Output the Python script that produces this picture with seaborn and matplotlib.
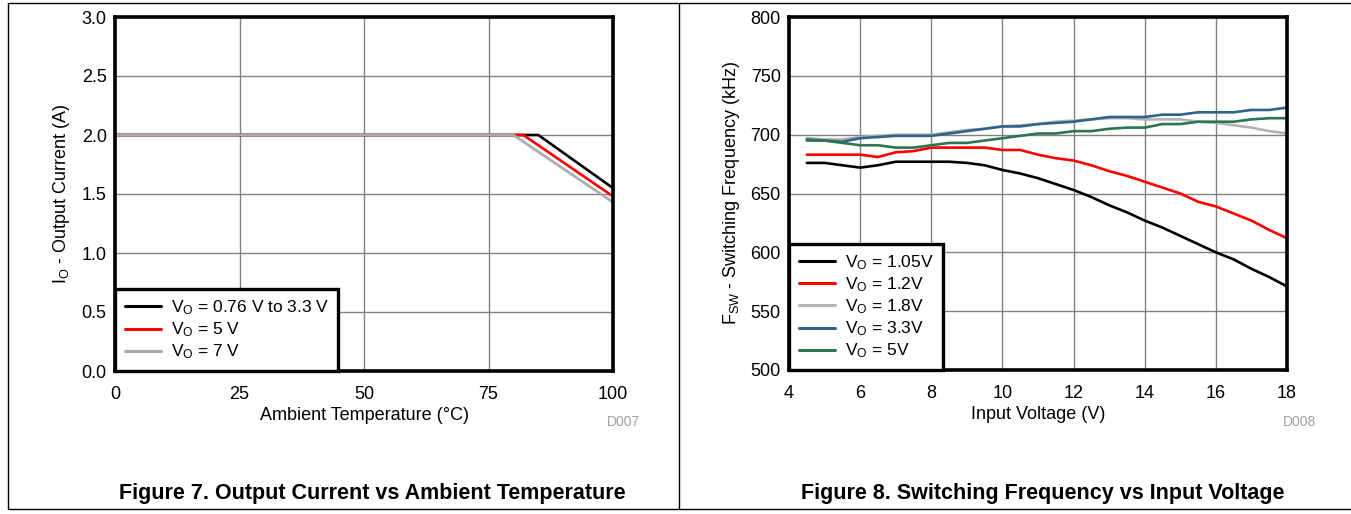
import numpy as np
import pandas as pd
import matplotlib
matplotlib.use('Agg')
import matplotlib.pyplot as plt
from matplotlib.lines import Line2D
import seaborn as sns

# Figure 7 - output current derating
temp_076_33 = [0, 85, 100]
iout_076_33 = [2.0, 2.0, 1.55]
temp_5 = [0, 82, 100]
iout_5 = [2.0, 2.0, 1.48]
temp_7 = [0, 80, 100]
iout_7 = [2.0, 2.0, 1.43]

# Figure 8 - switching frequency vs input voltage
vin = [4.5, 5, 5.5, 6, 6.5, 7, 7.5, 8, 8.5, 9, 9.5, 10, 10.5, 11, 11.5, 12,
       12.5, 13, 13.5, 14, 14.5, 15, 15.5, 16, 16.5, 17, 17.5, 18]
fsw_105 = [676, 676, 674, 672, 674, 677, 677, 677, 677, 676, 674, 670, 667, 663,
           658, 653, 647, 640, 634, 627, 621, 614, 607, 600, 594, 586, 579, 571]
fsw_12 = [683, 683, 683, 683, 681, 685, 686, 689, 689, 689, 689, 687, 687, 683,
          680, 678, 674, 669, 665, 660, 655, 650, 643, 639, 633, 627, 619, 612]
fsw_18 = [697, 696, 696, 698, 699, 700, 700, 700, 702, 704, 705, 707, 708, 709,
          711, 712, 713, 714, 714, 713, 713, 713, 711, 710, 708, 706, 703, 701]
fsw_33 = [695, 695, 694, 697, 698, 699, 699, 699, 701, 703, 705, 707, 707, 709,
          710, 711, 713, 715, 715, 715, 717, 717, 719, 719, 719, 721, 721, 723]
fsw_5 = [696, 695, 693, 691, 691, 689, 689, 691, 693, 693, 695, 697, 699, 701,
         701, 703, 703, 705, 706, 706, 709, 709, 711, 711, 711, 713, 714, 714]

lab7 = [r'V$_\mathrm{O}$ = 0.76 V to 3.3 V', r'V$_\mathrm{O}$ = 5 V', r'V$_\mathrm{O}$ = 7 V']
lab8 = [r'V$_\mathrm{O}$ = 1.05V', r'V$_\mathrm{O}$ = 1.2V', r'V$_\mathrm{O}$ = 1.8V',
        r'V$_\mathrm{O}$ = 3.3V', r'V$_\mathrm{O}$ = 5V']

df7 = pd.concat([
    pd.DataFrame({'T': temp_076_33, 'I': iout_076_33, 'Vo': lab7[0]}),
    pd.DataFrame({'T': temp_5, 'I': iout_5, 'Vo': lab7[1]}),
    pd.DataFrame({'T': temp_7, 'I': iout_7, 'Vo': lab7[2]}),
])
df8 = pd.concat([pd.DataFrame({'Vin': vin, 'F': f, 'Vo': l})
                 for f, l in zip([fsw_105, fsw_12, fsw_18, fsw_33, fsw_5], lab8)])

sns.set_style('white')
plt.rcParams['font.family'] = ['Liberation Sans', 'DejaVu Sans']
plt.rcParams['mathtext.fontset'] = 'custom'
plt.rcParams['mathtext.rm'] = 'Liberation Sans'
plt.rcParams['mathtext.it'] = 'Liberation Sans:italic'
for k in ['text.color', 'axes.labelcolor', 'xtick.color', 'ytick.color']:
    plt.rcParams[k] = 'black'

fs = 13

fig = plt.figure(figsize=(13.51, 5.14), dpi=100)
W, H = 1351, 514
ax1 = fig.add_axes([115 / W, 1 - 371 / H, 498 / W, 354 / H])
ax2 = fig.add_axes([789 / W, 1 - 370 / H, 498 / W, 353 / H])

sns.lineplot(data=df7, x='T', y='I', hue='Vo', hue_order=lab7,
             palette=['black', '#ff0000', '#ababab'], linewidth=1.9, ax=ax1)
sns.lineplot(data=df8, x='Vin', y='F', hue='Vo', hue_order=lab8,
             palette=['black', '#ff0000', '#b4b4b4', '#2f6489', '#2c7550'],
             linewidth=1.9, ax=ax2)

ax1.set_xlim(0, 100)
ax1.set_ylim(0, 3)
ax1.set_xticks([0, 25, 50, 75, 100])
ax1.set_yticks(np.arange(0, 3.01, 0.5))
ax1.set_yticklabels(['%.1f' % v for v in np.arange(0, 3.01, 0.5)])
ax1.set_xlabel('Ambient Temperature (°C)', fontsize=fs, labelpad=3.5)
ax1.set_ylabel(r'I$_\mathrm{O}$ - Output Current (A)', fontsize=fs, labelpad=7)

ax2.set_xlim(4, 18)
ax2.set_ylim(500, 800)
ax2.set_xticks(range(4, 19, 2))
ax2.set_yticks(range(500, 801, 50))
ax2.set_xlabel('Input Voltage (V)', fontsize=fs, labelpad=3.5)
ax2.set_ylabel(r'F$_\mathrm{SW}$ - Switching Frequency (kHz)', fontsize=fs, labelpad=6)

for ax in (ax1, ax2):
    ax.grid(True, color='#808080', linewidth=1)
    ax.set_axisbelow(True)
    ax.tick_params(length=0, labelsize=fs)
    ax.tick_params(axis='x', pad=10.5)
    ax.tick_params(axis='y', pad=6)
    for s in ax.spines.values():
        s.set_visible(True)
        s.set_color('black')
        s.set_linewidth(2.6)
    leg = ax.legend(loc='lower left', borderaxespad=0, fancybox=False, framealpha=1,
                    edgecolor='black', fontsize=12.5, handlelength=2.1, labelspacing=0.2,
                    borderpad=0.55, handletextpad=0.55)
    leg.get_frame().set_linewidth(2.4)
    for h in leg.get_lines():
        h.set_linewidth(2.2)

fig.text(624 / W, 1 - 422 / H, 'D007', color='#a0a0a0', fontsize=10, ha='center', va='center')
fig.text(1300 / W, 1 - 422 / H, 'D008', color='#a0a0a0', fontsize=10, ha='center', va='center')
fig.text(372 / W, 1 - 493 / H, 'Figure 7. Output Current vs Ambient Temperature',
         fontsize=15.5, fontweight='bold', ha='center', va='center')
fig.text(1043 / W, 1 - 493 / H, 'Figure 8. Switching Frequency vs Input Voltage',
         fontsize=15.5, fontweight='bold', ha='center', va='center')

# page frame
fig.add_artist(Line2D([8 / W, 1], [1 - 3 / H, 1 - 3 / H], color='black', lw=1, transform=fig.transFigure))
fig.add_artist(Line2D([8 / W, 1], [1 - 509 / H, 1 - 509 / H], color='black', lw=1, transform=fig.transFigure))
fig.add_artist(Line2D([8 / W, 8 / W], [1 - 509 / H, 1 - 3 / H], color='black', lw=1, transform=fig.transFigure))
fig.add_artist(Line2D([679 / W, 679 / W], [1 - 509 / H, 1 - 3 / H], color='black', lw=1, transform=fig.transFigure))

fig.savefig('out.png', dpi=100)
